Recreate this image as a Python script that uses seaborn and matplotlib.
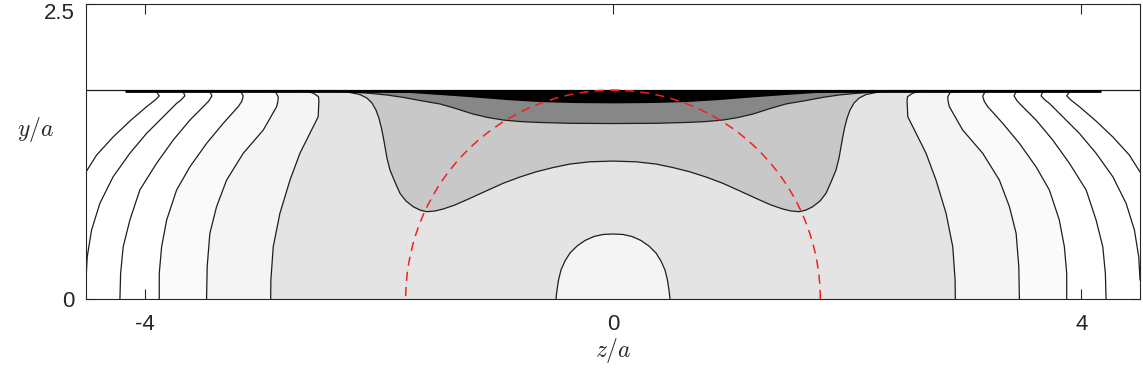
import numpy as np
import pandas as pd
import matplotlib
matplotlib.use("Agg")
import matplotlib.pyplot as plt
from matplotlib.patches import Arc
from matplotlib.transforms import ScaledTranslation
import seaborn as sns

# ---------------------------------------------------------------------------
# data (z/a, y/a); the field is symmetric in z,
# so only the left half of each contour is listed and mirrored below
# ---------------------------------------------------------------------------
wall_y = 1.77
circle_r = 1.77
z_lim = (-4.5, 4.5)
y_lim = (0.0, 2.5)
x_ticks = [-4, 0, 4]
y_ticks = [0, 2.5]
y_tick_labels = ["0", "2.5"]

# outer contour lines, wall -> bottom (or left edge)
line1_z = [-3.945, -3.895, -3.874, -3.905, -3.982, -4.125, -4.268, -4.409, -4.5]
line1_y = [1.767, 1.752, 1.722, 1.690, 1.630, 1.508, 1.373, 1.220, 1.076]

line2_z = [-3.717, -3.668, -3.655, -3.690, -3.726, -3.840, -3.982, -4.125, -4.268, -4.381, -4.452, -4.489, -4.5]
line2_y = [1.767, 1.752, 1.722, 1.685, 1.658, 1.545, 1.404, 1.235, 1.036, 0.811, 0.585, 0.358, 0.161]

line3_z = [-3.490, -3.440, -3.424, -3.450, -3.484, -3.612, -3.755, -3.897, -4.040, -4.125, -4.182, -4.204, -4.210]
line3_y = [1.767, 1.752, 1.722, 1.680, 1.644, 1.517, 1.347, 1.150, 0.924, 0.669, 0.443, 0.218, 0.0]

line4_z = [-3.234, -3.175, -3.157, -3.170, -3.200, -3.328, -3.470, -3.612, -3.726, -3.811, -3.854, -3.874, -3.874]
line4_y = [1.767, 1.752, 1.720, 1.675, 1.630, 1.489, 1.319, 1.121, 0.924, 0.669, 0.443, 0.218, 0.0]

line5_z = [-2.946, -2.878, -2.858, -2.862, -2.872, -2.986, -3.157, -3.299, -3.385, -3.442, -3.465, -3.470]
line5_y = [1.767, 1.750, 1.712, 1.670, 1.630, 1.432, 1.235, 1.008, 0.782, 0.557, 0.274, 0.0]

line6_z = [-2.645, -2.560, -2.515, -2.511, -2.517, -2.588, -2.673, -2.758, -2.844, -2.901, -2.921, -2.923]
line6_y = [1.767, 1.745, 1.715, 1.680, 1.545, 1.404, 1.235, 1.008, 0.726, 0.443, 0.161, 0.0]

# inner contours, left wall -> centre line
gray_z = [-2.306, -2.246, -2.161, -2.101, -2.058, -2.024, -1.999, -1.977, -1.960,
          -1.947, -1.930, -1.904, -1.862, -1.819, -1.768, -1.705, -1.648, -1.591,
          -1.520, -1.449, -1.349, -1.221, -1.076, -0.937, -0.794, -0.652, -0.512,
          -0.367, -0.196, 0.0]
gray_y = [1.763, 1.750, 1.733, 1.703, 1.661, 1.602, 1.534, 1.449, 1.364,
          1.291, 1.195, 1.093, 0.992, 0.896, 0.831, 0.782, 0.754, 0.740,
          0.746, 0.763, 0.797, 0.853, 0.919, 0.981, 1.034, 1.079, 1.114,
          1.144, 1.163, 1.169]

dark_z = [-2.417, -2.246, -2.075, -1.930, -1.793, -1.648, -1.477, -1.341, -1.196,
          -1.067, -0.939, -0.794, -0.649, -0.367, 0.0]
dark_y = [1.763, 1.754, 1.743, 1.729, 1.709, 1.682, 1.653, 1.614, 1.568,
          1.538, 1.517, 1.504, 1.497, 1.489, 1.487]

black_z = [-1.99, -1.477, -1.196, -0.905, -0.623, -0.342, 0.0]
black_y = [1.763, 1.729, 1.709, 1.686, 1.669, 1.661, 1.658]

streak_z = [-0.85, -0.4, 0.0]
streak_y = [1.766, 1.754, 1.750]

# light bump at the bottom centre, bottom -> top
bump_z = [-0.487, -0.478, -0.465, -0.444, -0.410, -0.367, -0.307, -0.239, -0.162, -0.085, 0.0]
bump_y = [0.0, 0.076, 0.161, 0.246, 0.322, 0.390, 0.449, 0.496, 0.530, 0.547, 0.551]

wall_band_z = [-4.17, 4.17]

outer_lines = [(line1_z, line1_y, None),
               (line2_z, line2_y, None),
               (line3_z, line3_y, None),
               (line4_z, line4_y, "#fafafa"),
               (line5_z, line5_y, "#f4f4f4"),
               (line6_z, line6_y, "#e4e4e4")]
inner_lines = [(gray_z, gray_y, "#c8c8c8"),
               (dark_z, dark_y, "#878787"),
               (black_z, black_y, "#000000")]


def mirror_half(z, y):
    """left half (ending on z=0) -> full curve left wall to right wall"""
    z = np.asarray(z)
    y = np.asarray(y)
    return (np.concatenate([z, -z[::-1][1:]]),
            np.concatenate([y, y[::-1][1:]]))


# ---------------------------------------------------------------------------
# figure
# ---------------------------------------------------------------------------
sns.set_theme(style="ticks")
plt.rcParams["font.family"] = ["Liberation Sans", "DejaVu Sans"]
plt.rcParams["mathtext.fontset"] = "cm"
plt.rcParams["axes.unicode_minus"] = False

fig = plt.figure(figsize=(11.43, 3.83), dpi=100)
ax = fig.add_axes([0.0752, 0.2193, 0.9222, 0.7702])

# filled bands, outermost first
for z, y, col in outer_lines:
    if col is None:
        continue
    z = np.asarray(z)
    y = np.asarray(y)
    poly_z = np.concatenate([z, [z[-1], -z[-1]], -z[::-1]])
    poly_y = np.concatenate([y, [0.0, 0.0], y[::-1]])
    ax.fill(poly_z, poly_y, color=col, lw=0, zorder=1)

for z, y, col in inner_lines:
    fz, fy = mirror_half(z, y)
    ax.fill(fz, fy, color=col, lw=0, zorder=1.1)

sz, sy = mirror_half(streak_z, streak_y)
ax.fill(sz, sy, color="#dcdcdc", lw=0, zorder=1.2)

bz, by = mirror_half(bump_z, bump_y)
ax.fill(bz, by, color="#f4f4f4", lw=0, zorder=1.1)

# contour lines
rows = []
k = 0
for z, y, _ in outer_lines:
    for sign in (1, -1):
        for zi, yi in zip(z, y):
            rows.append((k, sign * zi, yi))
        k += 1
for z, y in [(gray_z, gray_y), (dark_z, dark_y), (bump_z, bump_y)]:
    fz, fy = mirror_half(z, y)
    for zi, yi in zip(fz, fy):
        rows.append((k, zi, yi))
    k += 1
lines_df = pd.DataFrame(rows, columns=["curve", "z", "y"])
sns.lineplot(data=lines_df, x="z", y="y", units="curve", estimator=None,
             sort=False, color="#1e1e1e", lw=0.9, ax=ax, zorder=2)

# wall: thin line across, plus the band where contours pile up
ax.plot(z_lim, [wall_y, wall_y], color="#1a1a1a", lw=0.9, zorder=3)
ax.plot(wall_band_z, [wall_y - 0.008, wall_y - 0.008], color="black",
        lw=2.0, solid_capstyle="butt", zorder=3)

# red dashed circle
ax.add_patch(Arc((0, 0), 2 * circle_r, 2 * circle_r, theta1=0, theta2=180,
                 color="#f22020", lw=1.1, linestyle=(0, (6, 4)), zorder=4))

ax.set_xlim(*z_lim)
ax.set_ylim(*y_lim)
ax.set_xticks(x_ticks)
ax.set_xticklabels([str(t) for t in x_ticks])
ax.set_yticks(y_ticks)
ax.set_yticklabels(y_tick_labels)
ax.tick_params(direction="in", top=True, right=True, length=7, width=0.8,
               color="#262626", labelcolor="#262626", labelsize=16)
ax.tick_params(axis="x", pad=11)
ax.tick_params(axis="y", pad=8)
for sp in ax.spines.values():
    sp.set_color("#262626")
    sp.set_linewidth(0.8)
    sp.set_zorder(5)

# top y label sits a little lower so it stays inside the figure
top_lbl = ax.get_yticklabels()[-1]
top_lbl.set_transform(top_lbl.get_transform()
                      + ScaledTranslation(0, -0.065, fig.dpi_scale_trans))

ax.set_xlabel("$z/a$", fontsize=17, color="#262626", va="center")
ax.xaxis.set_label_coords(0.5, -0.175)
ax.set_ylabel("$y/a$", fontsize=17, color="#262626", rotation=0,
              ha="center", va="center")
ax.yaxis.set_label_coords(-0.048, 0.573)

fig.savefig("out.png", dpi=100)
